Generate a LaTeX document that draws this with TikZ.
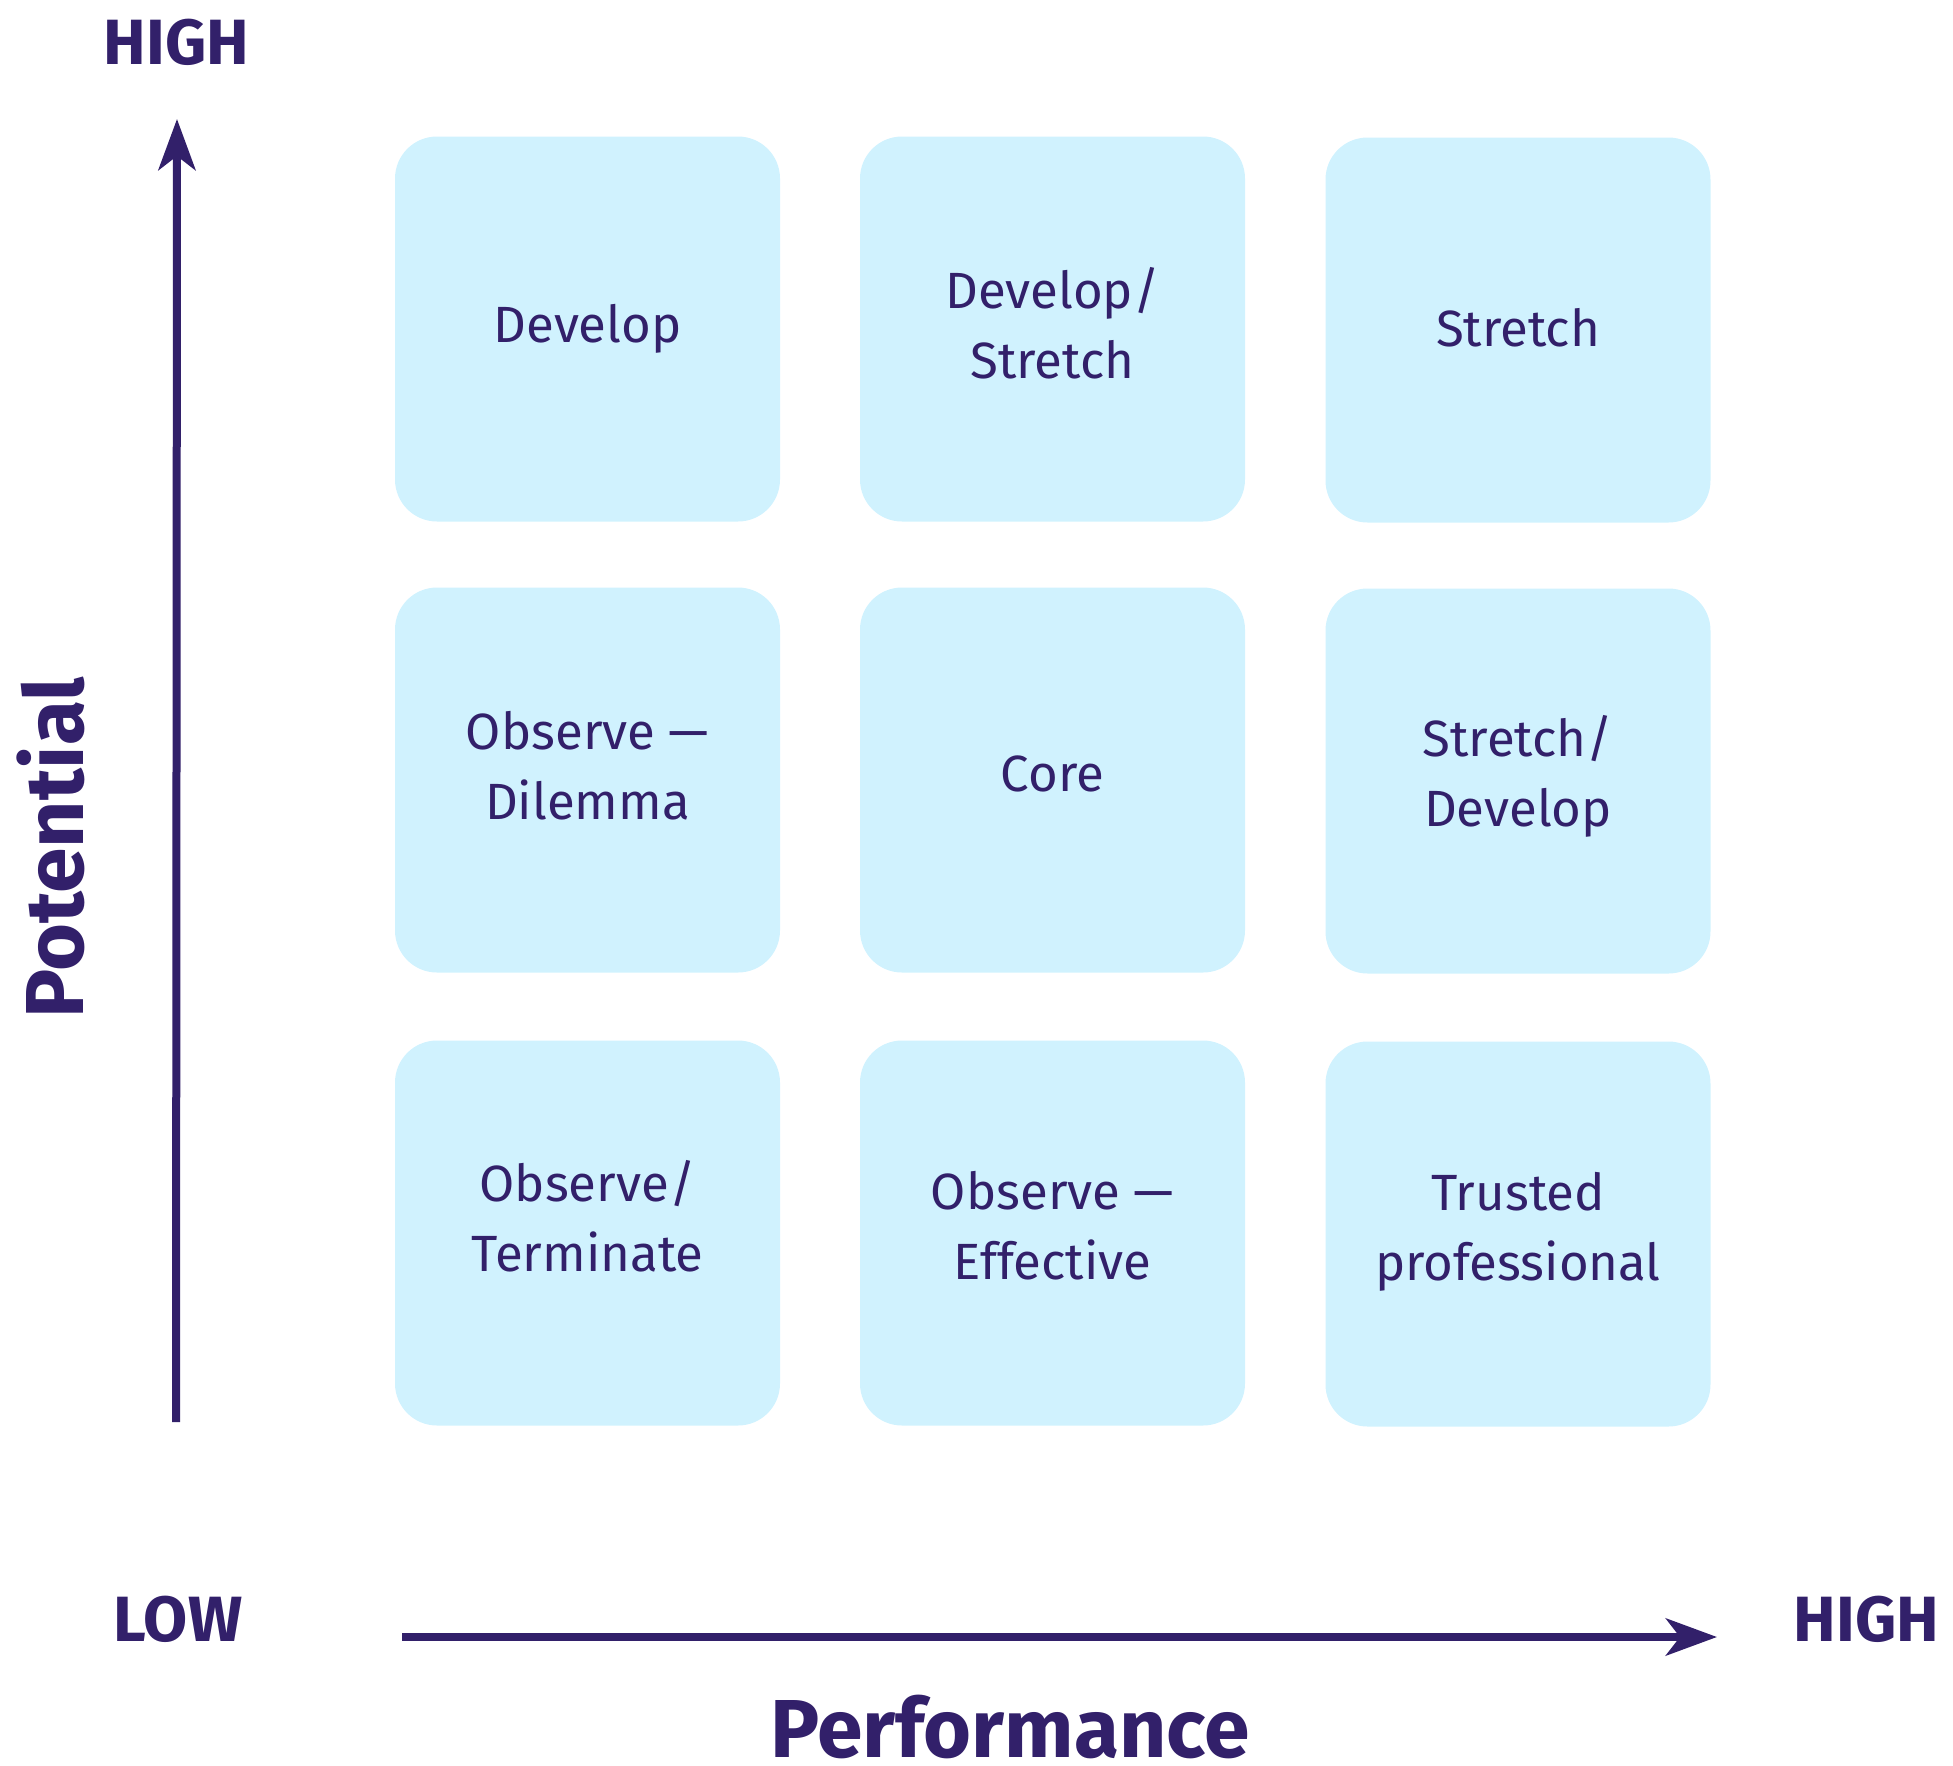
\documentclass[tikz,border=0pt]{standalone}
\usepackage{fontspec}
\setmainfont{Fira Sans}
\usetikzlibrary{arrows.meta,positioning}
\definecolor{ink}{RGB}{50,32,106}
\definecolor{cellblue}{RGB}{208,242,254}

\begin{document}
\begin{tikzpicture}[
    celltext/.style={align=center, text=ink, font=\fontsize{14.5pt}{19.9pt}\selectfont},
    cell/.style 2 args={fill=cellblue, rounded corners=4.2mm, minimum width=3.85cm, minimum height=3.85cm, label={[celltext, yshift=#2]center:{#1}}},
    tag/.style={text=ink, font=\fontsize{18.2pt}{20pt}\selectfont\bfseries, anchor=base},
    title/.style={text=ink, font=\fontsize{23.4pt}{26pt}\selectfont\bfseries, anchor=base},
    axis/.style={-{Stealth[length=5.1mm, width=3.7mm, inset=1.4mm]}, line width=0.8mm, draw=ink}
]
\useasboundingbox (0,0) rectangle (19.53,-17.66);

% nine cells, low to high performance left to right
\node[cell={Develop}{0mm}]                  (develop)    at (5.875,-3.29)  {};
\node[cell={Develop/\\Stretch}{0.6mm}]      (devstretch) at (10.525,-3.29) {};
\node[cell={Stretch}{0.25mm}]               (stretch)    at (15.18,-3.30)  {};
\node[cell={Observe ---\\Dilemma}{1.4mm}]   (dilemma)    at (5.875,-7.80)  {};
\node[cell={Core}{0.6mm}]                   (core)       at (10.525,-7.80) {};
\node[cell={Stretch/\\Develop}{0.45mm}]     (strdev)     at (15.18,-7.81)  {};
\node[cell={Observe/\\Terminate}{1.7mm}]    (terminate)  at (5.875,-12.33) {};
\node[cell={Observe ---\\Effective}{0.7mm}] (effective)  at (10.525,-12.33) {};
\node[cell={Trusted\\professional}{0.25mm}] (trusted)    at (15.18,-12.34) {};

% axes
\coordinate (ybot) at (1.76,-14.22);
\coordinate (ytop) at (1.77,-1.19);
\coordinate (xleft) at (4.02,-16.37);
\coordinate (xright) at (17.17,-16.37);
\draw[axis] (ybot) -- (ytop);
\draw[axis] (xleft) -- (xright);

\node[tag] (yhigh) at (1.765,-0.64) {HIGH};
\node[tag] (low) at (1.78,-16.41) {LOW};
\node[tag] (xhigh) at (18.665,-16.41) {HIGH};

\node[title, rotate=90] (potential) at (0.84,-8.48) {Potential};
\node[title] (performance) at (10.1,-17.57) {Performance};
\end{tikzpicture}
\end{document}
